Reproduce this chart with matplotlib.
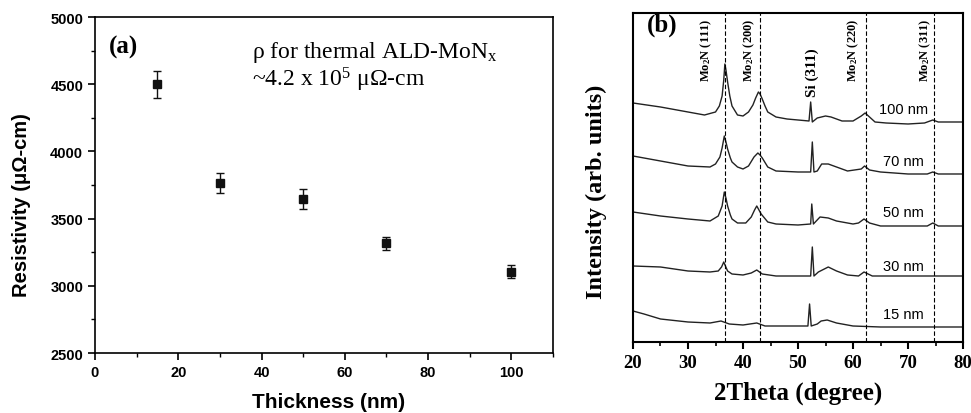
import matplotlib
matplotlib.use("Agg")
import matplotlib.pyplot as plt
from matplotlib.ticker import MultipleLocator

plt.rcParams['mathtext.default'] = 'regular'

# (a) resistivity vs thickness
thickness = [15, 30, 50, 70, 100]
resistivity = [4500, 3765, 3645, 3315, 3105]
res_err = [100, 78, 75, 50, 47]

# (b) XRD patterns (arb. units, offset per sample)
x_100 = [20, 25, 30, 33, 35, 35.7, 36.2, 36.5, 36.7, 36.9, 37.2, 37.6, 38, 39, 40, 41, 41.8, 42.3, 42.8,
         43.1, 43.5, 44, 44.5, 46, 48, 50, 52, 52.3, 52.6, 53.5, 55, 56, 58, 60, 61.5, 62.2, 63, 64, 66,
         70, 73, 74.5, 75.5, 80]
i_100 = [239, 235, 230, 227, 230, 236, 246, 262, 278, 272, 260, 246, 236, 227, 226, 230, 237, 244, 250,
         248, 243, 236, 230, 225, 223, 222, 221, 240, 220, 224, 226, 225, 221, 221, 226, 229, 225, 220, 219,
         218, 219, 222, 220, 220]

x_70 = [20, 25, 30, 34, 35, 35.8, 36.2, 36.6, 36.9, 37.2, 37.7, 38, 39, 40, 41, 42, 42.7, 43.1, 43.5,
        44.5, 46, 50, 52.3, 52.6, 52.9, 53.5, 54.3, 55.5, 57, 59, 61.5, 62.1, 63, 65, 70, 73.5, 74.5,
        75.5, 80]
i_70 = [186, 181, 176, 175, 178, 185, 194, 206, 200, 193, 184, 180, 175, 173, 176, 185, 189, 187, 184,
        175, 171, 170, 170, 200, 170, 171, 178, 178, 175, 171, 173, 176, 172, 170, 168, 168, 170,
        168, 168]

x_50 = [20, 25, 30, 34, 35.5, 36.2, 36.6, 36.9, 37.2, 37.7, 38, 39, 40.5, 41.5, 42.1, 42.5, 42.9, 43.3,
        44.5, 46, 50, 52.3, 52.5, 52.8, 54, 55.5, 57, 60, 61, 62, 63, 65, 70, 73.5, 74.5, 75.5, 80]
i_50 = [130, 126, 123, 121, 126, 136, 150, 144, 136, 127, 123, 119, 119, 125, 132, 136, 132, 128,
        120, 118, 117, 118, 138, 118, 125, 124, 121, 118, 119, 123, 119, 116, 116, 116, 119, 116, 116]

x_30 = [20, 25, 30, 34, 35.5, 36.1, 36.5, 36.8, 37.2, 38, 40, 41.5, 42.5, 43.5, 46, 50, 52.3, 52.6,
        52.9, 53.7, 55.5, 57, 59, 61, 62, 63.5, 70, 80]
i_30 = [76, 75, 71, 70, 71, 75, 80, 76, 71, 68, 67, 69, 72, 68, 66, 66, 66, 95,
        66, 70, 75, 71, 67, 66, 70, 66, 66, 66]

x_15 = [20, 22, 25, 30, 34, 36, 37.5, 40, 42.5, 44, 50, 51.8, 52.1, 52.4, 53.5, 54.2, 55.3, 57, 60, 65, 80]
i_15 = [31, 28, 23, 20, 19, 21, 18, 17, 19, 16, 16, 16, 38, 16, 18, 21, 22, 19, 16, 15, 15]

sample_labels = ['100 nm', '70 nm', '50 nm', '30 nm', '15 nm']
label_y = [233, 181, 130, 76, 28]

peak_pos = [36.7, 43.0, 62.3, 74.8]
peak_labels = ['Mo$_2$N (111)', 'Mo$_2$N (200)', 'Mo$_2$N (220)', 'Mo$_2$N (311)']
peak_label_x = [33.4, 41.1, 60.0, 73.1]

serif = 'Liberation Serif'
sans = 'Liberation Sans'

fig = plt.figure(figsize=(9.71, 4.14), dpi=100)

# ---- panel (a)
ax1 = fig.add_axes([0.0978, 0.1449, 0.4717, 0.8116])
ax1.errorbar(thickness, resistivity, yerr=res_err, fmt='s', color='#111111',
             markersize=5.5, capsize=3, elinewidth=1, capthick=1)
ax1.set_xlim(0, 110)
ax1.set_ylim(2500, 5000)
ax1.xaxis.set_major_locator(MultipleLocator(20))
ax1.xaxis.set_minor_locator(MultipleLocator(10))
ax1.yaxis.set_major_locator(MultipleLocator(500))
ax1.yaxis.set_minor_locator(MultipleLocator(250))
ax1.tick_params(which='major', direction='out', length=5, width=1.2)
ax1.tick_params(which='minor', direction='out', length=3, width=1.0)
for lab in ax1.get_xticklabels() + ax1.get_yticklabels():
    lab.set_fontfamily(sans)
    lab.set_fontweight('bold')
    lab.set_fontsize(10.5)
for sp in ax1.spines.values():
    sp.set_linewidth(1.2)

ax1.text(3.4, 4784, '(a)', fontfamily=serif, fontweight='bold', fontsize=18, va='center')
ax1.text(37.6, 4740, 'ρ for thermal ALD-MoN$_x$', fontfamily=serif, fontsize=17, va='center')
ax1.text(37.6, 4539, '~4.2 x 10$^5$ μΩ-cm', fontfamily=serif, fontsize=17, va='center')

fig.text(21.7 / 971, 1 - 205 / 414, 'Resistivity (μΩ-cm)', rotation=90, ha='center', va='center',
         fontfamily=sans, fontweight='bold', fontsize=14.5)
fig.text(329 / 971, 1 - 403 / 414, 'Thickness (nm)', ha='center', va='center',
         fontfamily=sans, fontweight='bold', fontsize=15)

# ---- panel (b)
ax2 = fig.add_axes([0.6519, 0.1715, 0.3399, 0.7947])
for xs, ys in [(x_100, i_100), (x_70, i_70), (x_50, i_50), (x_30, i_30), (x_15, i_15)]:
    ax2.plot(xs, ys, color='#222222', linewidth=1.0)
for p in peak_pos:
    ax2.axvline(p, color='black', linestyle=(0, (4, 2)), linewidth=0.8)
for lx, lab in zip(peak_label_x, peak_labels):
    ax2.text(lx, 325, lab, rotation=90, ha='center', va='top',
             fontfamily=serif, fontweight='bold', fontsize=9)
ax2.text(52.5, 295, 'Si (311)', rotation=90, ha='center', va='top',
         fontfamily=serif, fontweight='bold', fontsize=11)
for lab, ly in zip(sample_labels, label_y):
    ax2.text(69.1, ly, lab, ha='center', va='center', fontfamily=sans, fontsize=10.5)
ax2.text(22.5, 318, '(b)', fontfamily=serif, fontweight='bold', fontsize=18, va='center')

ax2.set_xlim(20, 80)
ax2.set_ylim(0, 329)
ax2.set_yticks([])
ax2.xaxis.set_major_locator(MultipleLocator(10))
ax2.xaxis.set_minor_locator(MultipleLocator(5))
ax2.tick_params(which='major', direction='out', length=5, width=1.5)
ax2.tick_params(which='minor', direction='out', length=3, width=1.2)
for lab in ax2.get_xticklabels():
    lab.set_fontfamily(serif)
    lab.set_fontweight('bold')
    lab.set_fontsize(13.5)
for sp in ax2.spines.values():
    sp.set_linewidth(1.5)

fig.text(596.7 / 971, 1 - 192 / 414, 'Intensity (arb. units)', rotation=90, ha='center', va='center',
         fontfamily=serif, fontweight='bold', fontsize=17.5)
fig.text(798 / 971, 1 - 393 / 414, '2Theta (degree)', ha='center', va='center',
         fontfamily=serif, fontweight='bold', fontsize=18)

fig.savefig('out.png', dpi=100)
